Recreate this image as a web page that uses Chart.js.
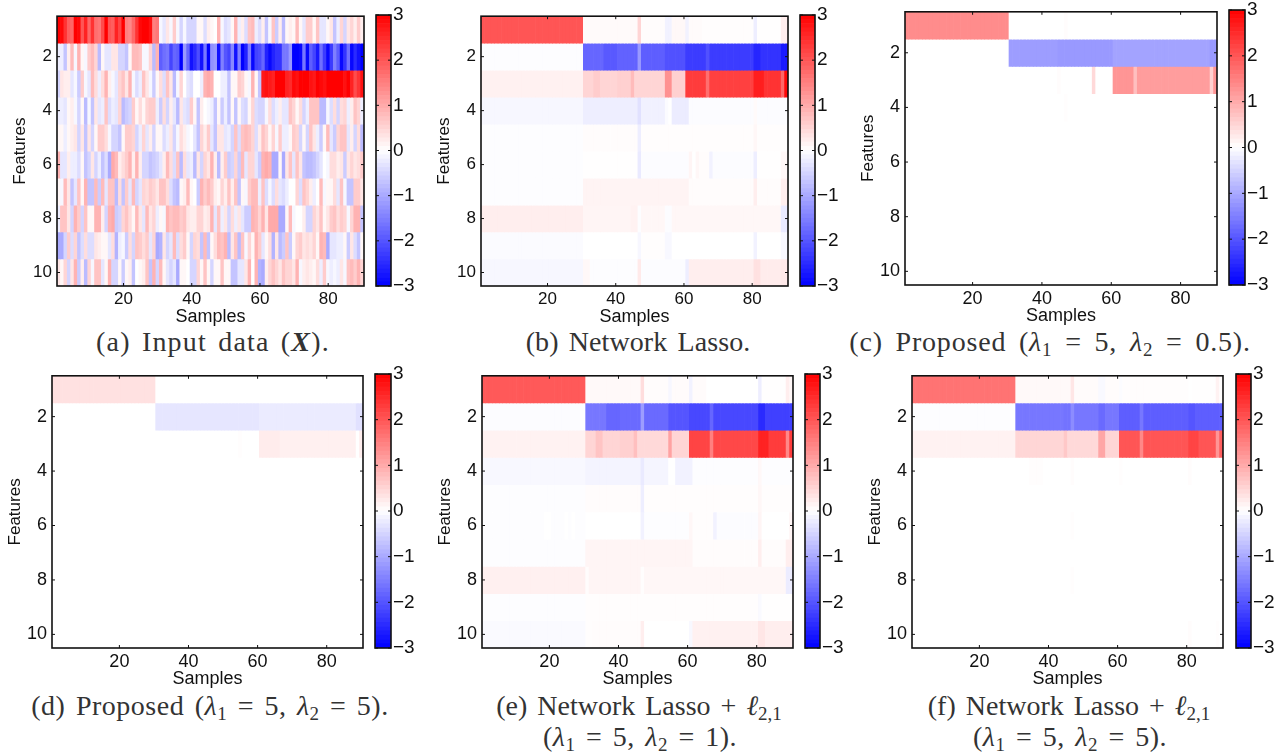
<!DOCTYPE html>
<html>
<head>
<meta charset="utf-8">
<title>Heatmaps</title>
<script src="https://cdn.jsdelivr.net/npm/chart.js@4/dist/chart.umd.min.js"></script>
<style>
html, body { margin: 0; padding: 0; background: #fff; width: 1283px; height: 753px; overflow: hidden; }
canvas { position: absolute; }
.cap { position: absolute; transform: translateX(-50%); white-space: nowrap; font-family: "Liberation Serif", serif; font-size: 28px; color: #333; line-height: 30px; }
.cap i { font-style: italic; }
.cap sub { font-size: 19px; line-height: 0; vertical-align: -5px; }
</style>
</head>
<body>
<div class="cap" style="left:213px;top:327px;letter-spacing:1.2px;word-spacing:3px">(a) Input data (<b><i>X</i></b>).</div>
<div class="cap" style="left:638px;top:327px;word-spacing:3px;letter-spacing:.1px">(b) Network Lasso.</div>
<div class="cap" style="left:1050px;top:327px;letter-spacing:.8px;word-spacing:5px">(c) Proposed (<i>λ</i><sub>1</sub> = 5, <i>λ</i><sub>2</sub> = 0.5).</div>
<div class="cap" style="left:210px;top:691px;letter-spacing:.5px;word-spacing:3px">(d) Proposed (<i>λ</i><sub>1</sub> = 5, <i>λ</i><sub>2</sub> = 5).</div>
<div class="cap" style="left:639px;top:691px;word-spacing:3px">(e) Network Lasso + <i>ℓ</i><sub>2,1</sub></div>
<div class="cap" style="left:640px;top:722px;letter-spacing:.5px;word-spacing:3px">(<i>λ</i><sub>1</sub> = 5, <i>λ</i><sub>2</sub> = 1).</div>
<div class="cap" style="left:1069px;top:691px;word-spacing:3px">(f) Network Lasso + <i>ℓ</i><sub>2,1</sub></div>
<div class="cap" style="left:1070px;top:722px;letter-spacing:.5px;word-spacing:3px">(<i>λ</i><sub>1</sub> = 5, <i>λ</i><sub>2</sub> = 5).</div>
<script>
// tick labels
const sampleTicks = [20, 40, 60, 80];
const featureTicks = [2, 4, 6, 8, 10];
const colorTicks = [-3, -2, -1, 0, 1, 2, 3];

// panel (a): every sample read one by one
const inputData = [
 [3,2.9,2.4,1.9,1.8,3,2.9,2,2.6,1.8, 2.4,1.7,1.6,2.1,3,2,1.9,2.6,2.2,3, 1.5,1.4,1.8,2.4,2.9,3,3,2.8,1.5,1.6, -.1,-.3,.3,-.1,.6,-.1,-.5,-.1,-.5,-.5, -.5,.1,.1,-.4,.2,.1,0,.9,-.1,-.4, -.3,.1,.9,-.2,.2,-.4,.7,.8,-.2,-.4, .2,-.7,-.1,.7,-.6,.2,-.8,.1,.2,.1, .8,.1,-.3,.6,.6,.1,.7,-.3,-.3,.1, .3,-.7,-.2,.5,-.5,.3,.5,.2,.6,.2],
 [-.2,-.2,-.7,.2,.8,-.1,.9,.1,-.1,.6, .8,.5,-.8,.1,-.3,-.3,.3,.3,-.5,-.5, -.7,.1,.8,.8,.7,-.1,-.1,.5,-.8,.9, -1.9,-1.7,-1.6,-2.2,-1.8,-1.9,-3,-1.2,-1.8,-2.8, -2.5,-2.1,-2.8,-1.6,-3,-1.3,-1.2,-2.8,-1.5,-2.0, -2.2,-1.4,-2.8,-1.5,-3,-2.6,-1.5,-2.9,-2.2,-2.1, -1.8,-2.6,-2.9,-2.6,-2.4,-2.4,-1.6,-1.6,-1.2,-3, -3,-2.9,-1.6,-2.9,-1.9,-2.2,-2.7,-1.7,-2.3,-2.9, -2.3,-1.5,-1.9,-2.9,-2.4,-1.7,-2.9,-2.5,-2.8,-3],
 [-.5,.3,.2,.2,-.3,-.1,-.6,.6,-.1,-.3, .8,.4,-.2,.4,.9,.2,-.1,-.3,.5,.7, .3,.9,-.1,-.4,-.2,.7,.3,-.1,-.6,.1, .4,-.4,.7,.3,-.8,-.1,.5,0,-.3,-.4, 0,0,-.2,.9,1,.9,0,0,-.2,-.2, -.7,.1,.1,.6,.5,.1,-.1,.9,.1,-.7, 2.7,2.8,2.7,2.6,3,3,3,2.6,2.5,2.9, 2.8,3,3,3,2.8,2.7,3,2.9,2.8,3, 3,3,3,3,2.8,3,2.6,2.1,2.4,2.8],
 [-.2,-.2,-.3,.1,.2,-.1,-.5,.1,-.8,-.1, -.7,.3,-.3,-.2,.7,-.4,-.2,-.3,.5,-.8, -.6,-.5,.6,.1,.4,.1,.5,.6,.6,-.2, -.6,.4,-.5,.2,-.3,-.8,.3,-.3,-.4,.6, .1,-.7,.2,0,-.1,-.2,-.7,.1,-.6,-.2, -.7,.1,-.7,.1,-.4,-.5,.1,.5,-.4,-.5, -.5,-.1,.4,-.4,-.2,.2,-.3,-.3,.7,.5, .1,.4,-.5,-.2,.7,.7,.7,-.8,-.8,-.1, -.4,.4,-.5,.4,.5,-.2,.2,.7,.5,-.2],
 [.1,.1,-.2,.1,.2,.3,-.5,.3,-.7,.3, -.5,.1,.6,.6,.4,-.1,-.5,-.5,-.7,.1, .6,.6,.5,-.5,-.2,.5,-.3,.2,-.5,.1, .1,-.4,-.2,.3,-.5,-.1,.4,.2,-.1,0, -.3,-.7,.5,.2,.6,-.3,-.7,.3,.3,-.3, -.2,-.5,.7,-.4,.7,.8,.7,.5,-.4,.2, .7,.5,.1,.5,-.1,.6,-.2,-.2,.1,.6, .5,-.5,.1,-.5,.7,.3,-.2,-.6,.1,.8, -.3,-.6,.5,.7,.7,-.3,.2,-.5,.4,-.8],
 [.9,-.3,-.3,.2,-.2,-.2,-.4,.1,-.7,-.5, .3,-.5,-.2,-.7,-.4,-1,1,.8,.2,.4, .6,.9,.2,.9,.2,-.5,-.5,-.7,-.6,-.5, -.3,.2,.8,.4,-.4,.7,-.8,.4,-.3,-.2, -.8,.3,-.5,.5,.3,.9,.2,-.8,.2,.6, -.6,-.5,.5,-.6,.8,-.3,.5,.5,-.3,-.6, .9,1,.9,-1,-1,.1,-1,.3,.7,-.3, .7,.3,-.7,-.8,-.8,-.7,-.5,-.3,0,-.1, .4,.4,.2,.3,-.6,.3,.5,.3,.4,.6],
 [.1,-.1,.8,.3,-.7,-.3,.7,.1,.9,-.7, -.7,.8,-.6,.8,-.3,.7,.7,-.8,.4,-.7, .6,-.3,.8,-.5,-.3,.5,.4,.6,.5,.3, .7,.7,.4,-.4,-.7,-.8,.1,.2,.8,.1, 0,-.6,.9,.6,.8,.6,.2,.1,.5,.2, .7,.2,.7,-.7,.1,-.1,.6,.8,.8,-.2, .7,-.4,-.1,-.4,.4,-.3,-.4,-.2,0,0, .5,-.4,.7,.5,.2,-.2,0,.8,-.1,.1, .1,.4,-.3,.7,-.1,-.7,-.7,.6,.6,.3],
 [-.2,.7,.7,.3,-.5,.9,.6,-.5,.7,.1, .1,.9,.9,.2,-.5,.9,1,-.6,-.5,.5, .7,.4,.1,.8,.3,-.3,.8,.3,.5,-.2, .1,-.1,.9,.7,.8,.8,.6,.7,.3,.2, .2,.5,.5,.2,.3,.9,-.3,.7,-.2,.3, -.5,.4,-.2,.3,-.3,-.6,-.6,.9,.8,.5, .9,.3,1,1,1,-1,-1,.1,.8,-.1, 0,0,.2,-.5,-.5,.5,.3,.7,.1,.3, .6,.7,.4,.6,.5,-.1,.5,.9,.9,-.7],
 [-1,-1,-.5,.6,-.4,.5,-.7,-.4,.4,-.4, -.4,.3,.2,.1,.1,-.3,.4,-.9,-.2,-.1, -.6,.4,-.5,.7,.6,.4,.6,-.3,.5,-1, -.9,.3,-.5,-.3,.8,-.4,.4,.6,.1,-.5, .5,.4,-.7,.8,-.7,.1,.4,.8,.7,.9, -.8,.3,.7,-.8,.7,-.1,.5,.1,.9,.6, -.3,.1,.4,-.9,.3,-.8,-.6,.7,-.6,.1, .5,.6,.3,.4,.3,.5,.1,.9,.8,-1, -.3,-.3,-.2,-.2,.1,-.6,.3,-.4,-.7,.1],
 [.3,.1,.5,-.5,.3,.9,-.6,.2,-.8,.5, -.1,.7,.7,-.3,.1,.9,-.5,-.5,.1,-.6, .1,.2,-.7,0,.1,.2,.7,-.7,.9,-.5, .8,.1,-.3,-.5,-.3,-1,.1,.1,0,-.5, -.5,.5,.1,.7,.1,-.5,.1,.1,.7,.1, .1,-.7,-.7,-.3,-.3,.3,.9,0,.9,-.9, -1,.2,.5,.7,.5,.3,.7,.5,.5,.3, .9,-.1,.2,.3,.2,.1,.4,-.2,.6,-.1, -.2,-.1,-.2,.3,-.1,.7,.8,.6,.9,.5]
];

// panels (b)-(f): piecewise rows, as [number of samples, value] runs
const networkLasso = [
 [[30,2],[16,.06],[1,.5],[7,.03],[2,-.15],[4,.08],[1,-.15],[4,.05],[15,.02],[1,-.2],[7,.01],[2,.2]],
 [[30,-.02],[6,-1.8],[4,-1.95],[6,-1.85],[1,-1.2],[7,-1.9],[6,-2.05],[6,-2.3],[1,-2.05],[13,-2.3],[2,-2.55],[6,-2.4],[2,-2.7]],
 [[30,.17],[3,.5],[2,.6],[5,.5],[4,.55],[1,.8],[9,.5],[2,1.3],[4,.55],[6,2.3],[1,1.7],[13,2.25],[3,2.65],[5,2.4],[1,1.8],[1,2.9]],
 [[30,-.1],[16,-.2],[1,-.35],[7,-.17],[1,-.05],[1,0],[5,-.22],[19,-.03],[1,.06],[9,-.03]],
 [[30,-.02],[16,.03],[1,-.2],[33,.02],[1,.1],[9,.02]],
 [[30,-.02],[16,.01],[1,-.25],[14,-.03],[1,.12],[1,0],[1,.1],[3,.03],[1,-.15],[12,-.03],[1,-.2],[7,.01],[2,.1]],
 [[30,-.02],[31,.13],[19,.03],[1,.2],[7,.03],[2,.2]],
 [[30,.2],[14,.12],[2,.15],[1,-.02],[7,.1],[2,-.03],[32,.1],[2,-.25]],
 [[30,-.05],[16,0],[1,-.1],[7,.02],[2,-.08],[24,0],[1,-.15],[7,0],[2,-.08]],
 [[30,-.1],[2,.08],[14,-.02],[1,.25],[13,-.04],[1,-.2],[19,.2],[2,.35],[6,.22],[2,.25]]
];
const proposedHalf = [
 [[30,1.35],[16,0],[1,.03],[43,0]],
 [[30,0],[14,-1.15],[16,-1.2],[28,-1.08],[2,-1.2]],
 [[44,0],[1,.03],[9,0],[1,.45],[5,0],[6,1.25],[1,.75],[21,1.15],[1,.55],[1,1.25]],
 [[46,0],[1,.02],[43,0]],
 [[90,0]], [[90,0]], [[90,0]], [[90,0]], [[90,0]], [[90,0]]
];
const proposedFive = [
 [[30,.35],[60,0]],
 [[30,0],[30,-.3],[28,-.24],[2,-.35]],
 [[54,.0],[1,.02],[5,0],[6,.22],[22,.18],[1,0],[1,.2]],
 [[90,0]], [[90,0]], [[90,0]], [[90,0]], [[90,0]], [[90,0]], [[90,0]]
];
const lassoL21One = [
 [[30,1.95],[16,.07],[1,.4],[7,.04],[1,-.1],[5,.05],[1,-.15],[4,.05],[15,0],[1,-.2],[7,.01],[1,.2],[1,.1]],
 [[30,-.03],[6,-1.6],[4,-1.8],[6,-1.75],[1,-1.15],[7,-1.75],[6,-2],[6,-2.15],[1,-1.8],[13,-2.15],[2,-2.5],[8,-2.25]],
 [[30,.15],[3,.5],[2,.7],[5,.5],[4,.55],[1,.75],[9,.45],[1,1.1],[5,.5],[6,2.2],[1,1.5],[13,2.15],[3,2.6],[5,2.3],[1,1.4],[1,2.3]],
 [[30,-.08],[16,-.13],[1,-.25],[7,-.12],[2,0],[5,-.15],[19,-.02],[1,.08],[9,-.02]],
 [[30,-.02],[16,.03],[1,-.2],[33,.02],[1,.1],[9,.02]],
 [[18,-.02],[2,0],[4,-.02],[1,0],[1,-.02],[1,0],[3,-.02],[16,0],[1,-.15],[13,-.02],[1,.1],[6,.02],[1,-.15],[12,-.03],[1,.12],[8,0],[1,.12]],
 [[30,-.02],[31,.12],[19,.03],[1,.2],[7,.03],[2,.2]],
 [[30,.18],[1,.03],[15,.12],[1,.02],[41,.1],[2,-.22]],
 [[30,-.02],[16,.02],[1,.02],[33,.02],[1,-.06],[9,.01]],
 [[30,-.06],[2,.02],[14,.03],[1,.2],[13,0],[1,-.08],[19,.17],[2,.3],[8,.2]]
];
const lassoL21Five = [
 [[30,1.65],[16,.07],[1,.3],[7,.05],[2,-.07],[4,.03],[1,-.03],[19,.02],[1,0],[7,.01],[1,.15],[1,.02]],
 [[30,-.02],[14,-1.6],[2,-1.65],[1,-1.35],[7,-1.6],[2,-1.75],[4,-1.6],[6,-1.9],[1,-1.6],[13,-1.9],[2,-2],[8,-1.9]],
 [[30,.15],[14,.48],[1,.65],[9,.45],[2,1.05],[4,.5],[6,2],[1,1.4],[13,2],[3,2.2],[5,2],[1,1.25],[1,1.9]],
 [[34,0],[1,.02],[3,.02],[8,0],[1,.03],[13,0],[1,.02],[19,0],[1,.03],[9,0]],
 [[90,0]],
 [[46,0],[1,.02],[43,0]],
 [[90,0]],
 [[46,0],[1,.02],[43,0]],
 [[90,0]],
 [[80,0],[1,.03],[7,0],[1,.02],[1,0]]
];

const sampleLabels = [];
for (let i = 1; i <= 90; i++) sampleLabels.push(i);

// Same colour scale on every panel: blue - white - red
function cor(v) {
    const t = Math.min(Math.abs(v) / 3, 1);
    const c = Math.round(255 * (1 - t));
    return v >= 0 ? `rgb(255,${c},${c})` : `rgb(${c},${c},255)`;
}

function expandRow(runs) {
    const row = [];
    runs.forEach(r => {
        for (let i = 0; i < r[0]; i++) row.push(r[1]);
    });
    return row;
}

// Matlab look: closed box with the ticks pointing inwards
const matlabBox = {
    id: 'matlabBox',
    afterDatasetsDraw(chart) {
        const { ctx, chartArea: a, scales } = chart;
        ctx.save();
        ctx.strokeStyle = '#111';
        ctx.lineWidth = 1.6;
        ctx.strokeRect(a.left, a.top, a.right - a.left, a.bottom - a.top);
        ctx.lineWidth = 1;
        ctx.beginPath();
        if (scales.x.options.display) {
            sampleTicks.forEach(s => {
                const px = scales.x.getPixelForValue(s - 1);
                ctx.moveTo(px, a.top); ctx.lineTo(px, a.top + 3);
                ctx.moveTo(px, a.bottom); ctx.lineTo(px, a.bottom - 3);
            });
        }
        scales.y.ticks.forEach(t => {
            const py = scales.y.getPixelForValue(t.value);
            ctx.moveTo(a.left, py); ctx.lineTo(a.left + 3, py);
            ctx.moveTo(a.right, py); ctx.lineTo(a.right - 3, py);
        });
        ctx.stroke();
        ctx.restore();
    }
};

function fonte(size) {
    return { family: '"Liberation Sans", Arial, sans-serif', size: size };
}

function heatmap(box, rows, tam) {
    const canvas = document.createElement('canvas');
    const margemEsq = 47, margemTopo = 14, margemDir = 14, margemBaixo = 42;
    canvas.width = box.w + margemEsq + margemDir;
    canvas.height = box.h + margemTopo + margemBaixo;
    canvas.style.left = (box.x - margemEsq) + 'px';
    canvas.style.top = (box.y - margemTopo) + 'px';
    document.body.appendChild(canvas);

    const datasets = rows.map((row, f) => ({
        data: row.map(() => [f + 0.5, f + 1.5]),
        backgroundColor: row.map(cor),
        borderWidth: 0,
        grouped: false,
        categoryPercentage: 1,
        barPercentage: 1
    }));

    new Chart(canvas, {
        type: 'bar',
        data: { labels: sampleLabels, datasets: datasets },
        plugins: [matlabBox],
        options: {
            responsive: false,
            animation: false,
            events: [],
            layout: { padding: { top: margemTopo, right: margemDir } },
            plugins: { legend: { display: false }, tooltip: { enabled: false } },
            scales: {
                x: {
                    grid: { display: false, drawTicks: false },
                    border: { display: false },
                    afterFit: s => { s.height = margemBaixo; },
                    ticks: {
                        autoSkip: false, maxRotation: 0, padding: 3, color: '#111', font: fonte(tam),
                        callback: (v, i) => sampleTicks.includes(i + 1) ? String(i + 1) : ''
                    },
                    title: { display: true, text: 'Samples', color: '#111', font: fonte(18), padding: 0 }
                },
                y: {
                    reverse: true, min: 0.5, max: 10.5,
                    grid: { display: false, drawTicks: false },
                    border: { display: false },
                    afterFit: s => { s.width = margemEsq; },
                    afterBuildTicks: s => { s.ticks = featureTicks.map(v => ({ value: v })); },
                    ticks: { padding: 5, color: '#111', font: fonte(tam) },
                    title: { display: true, text: 'Features', color: '#111', font: fonte(17), padding: 0 }
                }
            }
        }
    });
}

function colorbar(box) {
    const canvas = document.createElement('canvas');
    const margemEsq = 4, margemVert = 14, margemDir = 34;
    canvas.width = box.w + margemEsq + margemDir;
    canvas.height = box.h + margemVert * 2;
    canvas.style.left = (box.x - margemEsq) + 'px';
    canvas.style.top = (box.y - margemVert) + 'px';
    document.body.appendChild(canvas);

    // 64 colour levels, like the Matlab colormap behind the picture
    const datasets = [];
    for (let n = 0; n < 64; n++) {
        const lo = -3 + n * 6 / 64, hi = -3 + (n + 1) * 6 / 64;
        datasets.push({
            data: [[lo, hi]],
            backgroundColor: cor((lo + hi) / 2),
            borderWidth: 0,
            grouped: false,
            categoryPercentage: 1,
            barPercentage: 1
        });
    }

    new Chart(canvas, {
        type: 'bar',
        data: { labels: [''], datasets: datasets },
        plugins: [matlabBox],
        options: {
            responsive: false,
            animation: false,
            events: [],
            layout: { padding: { left: margemEsq, top: margemVert, bottom: margemVert } },
            plugins: { legend: { display: false }, tooltip: { enabled: false } },
            scales: {
                x: { display: false },
                y: {
                    position: 'right', min: -3, max: 3,
                    grid: { display: false, drawTicks: false },
                    border: { display: false },
                    afterFit: s => { s.width = margemDir; },
                    afterBuildTicks: s => { s.ticks = colorTicks.map(v => ({ value: v })); },
                    ticks: {
                        padding: 2, color: '#111', font: fonte(19),
                        callback: v => String(v).replace('-', '\u2212')
                    }
                }
            }
        }
    });
}

window.addEventListener('load', function () {
    heatmap({ x: 57, y: 15, w: 307, h: 271 }, inputData, 17);
    colorbar({ x: 376, y: 15, w: 15, h: 271 });

    heatmap({ x: 481, y: 15, w: 307, h: 271 }, networkLasso.map(expandRow), 17);
    colorbar({ x: 800, y: 15, w: 15, h: 271 });

    heatmap({ x: 905, y: 10, w: 312, h: 275 }, proposedHalf.map(expandRow), 18);
    colorbar({ x: 1229, y: 10, w: 16, h: 275 });

    heatmap({ x: 52, y: 374, w: 311, h: 274 }, proposedFive.map(expandRow), 18);
    colorbar({ x: 375, y: 374, w: 16, h: 274 });

    heatmap({ x: 482, y: 374, w: 311, h: 274 }, lassoL21One.map(expandRow), 18);
    colorbar({ x: 805, y: 374, w: 15, h: 274 });

    heatmap({ x: 912, y: 374, w: 311, h: 274 }, lassoL21Five.map(expandRow), 18);
    colorbar({ x: 1236, y: 374, w: 15, h: 274 });
});
</script>
</body>
</html>
